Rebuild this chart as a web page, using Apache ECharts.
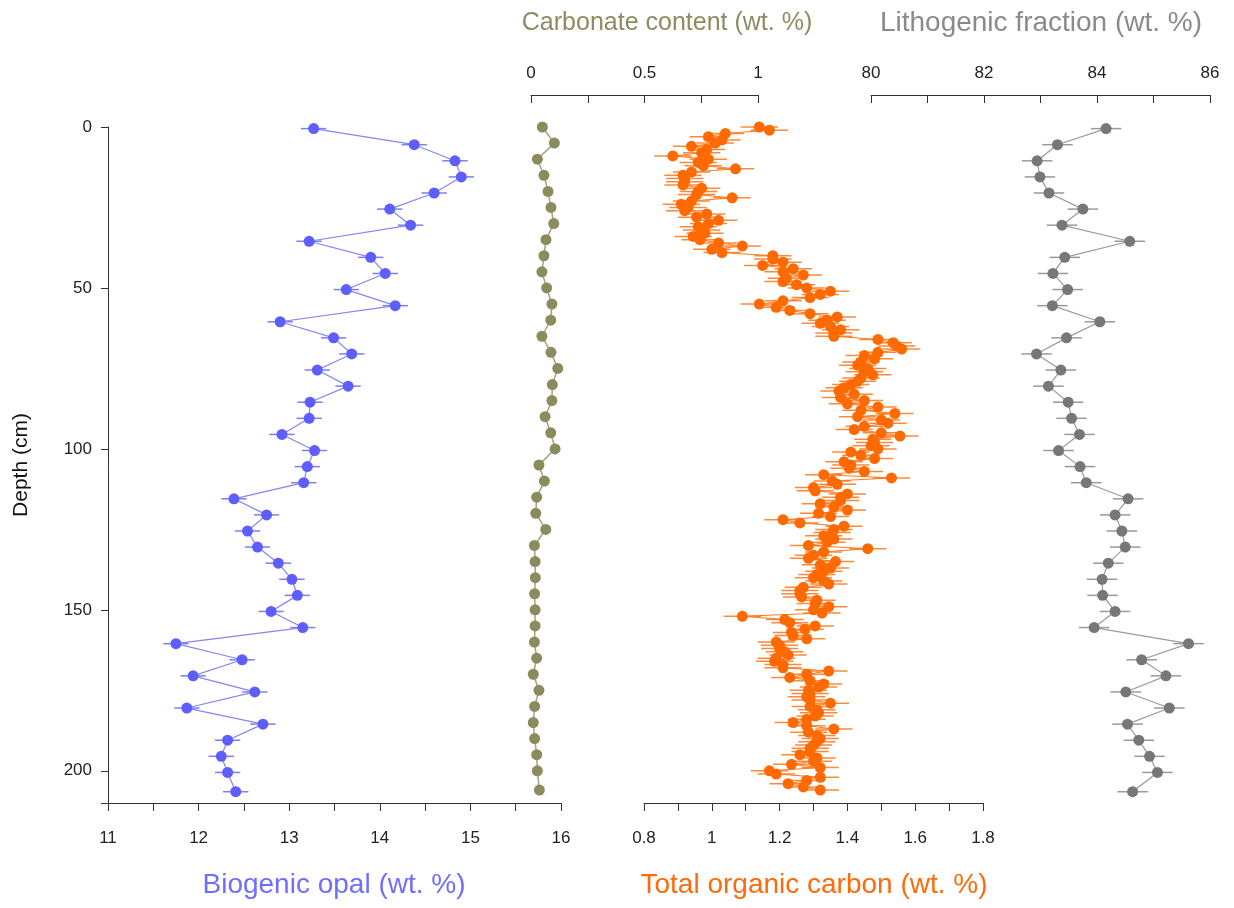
<!DOCTYPE html>
<html><head><meta charset="utf-8">
<script src="https://cdn.jsdelivr.net/npm/echarts@6/dist/echarts.min.js"></script>
<style>html,body{margin:0;padding:0;background:#fff}#c{width:1234px;height:908px}</style>
</head><body><div id="c"></div>
<script>
// ---- data ----
const sampleDepth = [0.5,5.5,10.5,15.5,20.5,25.5,30.5,35.5,40.5,45.5,50.5,55.5,60.5,65.5,70.5,75.5,80.5,85.5,90.5,95.5,100.5,105.5,110.5,115.5,120.5,125.5,130.5,135.5,140.5,145.5,150.5,155.5,160.5,165.5,170.5,175.5,180.5,185.5,190.5,195.5,200.5,206.5];
const carbDepth = [0,5,10,15,20,25,30,35,40,45,50,55,60,65,70,75,80,85,90,95,100,105,110,115,120,125,130,135,140,145,150,155,160,165,170,175,180,185,190,195,200,206];
const opal = [13.27,14.38,14.83,14.90,14.60,14.11,14.34,13.22,13.90,14.06,13.63,14.17,12.90,13.49,13.69,13.31,13.65,13.23,13.22,12.92,13.28,13.20,13.16,12.39,12.75,12.54,12.65,12.88,13.03,13.09,12.80,13.15,11.75,12.48,11.94,12.62,11.87,12.71,12.32,12.25,12.32,12.41];
const carbonate = [0.050,0.103,0.028,0.057,0.075,0.088,0.100,0.066,0.057,0.048,0.069,0.092,0.087,0.048,0.088,0.118,0.094,0.092,0.062,0.087,0.106,0.035,0.059,0.025,0.021,0.065,0.015,0.018,0.019,0.016,0.018,0.018,0.015,0.025,0.010,0.035,0.016,0.010,0.016,0.025,0.028,0.037];
const lithogenic = [84.16,83.30,82.94,82.99,83.15,83.75,83.38,84.58,83.43,83.22,83.48,83.21,84.05,83.46,82.93,83.36,83.14,83.49,83.55,83.69,83.32,83.70,83.81,84.55,84.32,84.44,84.50,84.20,84.09,84.10,84.32,83.95,85.62,84.79,85.22,84.51,85.28,84.54,84.74,84.93,85.07,84.63];
const tocDepth = [0,1,2,3,4,5,6,7,8,9,10,11,12,13,14,15,16,17,18,19,20,21,22,23,24,25,26,27,28,29,30,31,32,33,34,35,36,37,38,39,40,41,42,43,44,45,46,47,48,49,50,51,52,53,54,55,56,57,58,59,60,61,62,63,64,65,66,67,68,69,70,71,72,73,74,75,76,77,78,79,80,81,82,83,84,85,86,87,88,89,90,91,92,93,94,95,96,97,98,99,100,101,102,103,104,105,106,107,108,109,110,111,112,113,114,115,116,117,118,119,120,121,122,123,124,125,126,127,128,129,130,131,132,133,134,135,136,137,138,139,140,141,142,143,144,145,146,147,148,149,150,151,152,153,154,155,156,157,158,159,160,161,162,163,164,165,166,167,168,169,170,171,172,173,174,175,176,177,178,179,180,181,182,183,184,185,186,187,188,189,190,191,192,193,194,195,196,197,198,199,200,201,202,203,204,205,206];
const toc = [1.14,1.17,1.04,0.99,1.03,1.01,0.94,0.985,0.97,0.885,0.99,0.96,0.975,1.07,0.94,0.915,0.92,0.92,0.915,0.97,
0.96,0.955,1.06,0.94,0.91,0.93,0.92,0.985,0.955,1.02,0.99,0.96,0.97,0.98,0.945,0.965,1.02,1.09,1.00,1.03,
1.18,1.18,1.21,1.15,1.24,1.21,1.27,1.22,1.21,1.25,1.28,1.35,1.32,1.29,1.21,1.14,1.19,1.23,1.29,1.37,
1.34,1.32,1.35,1.38,1.36,1.36,1.49,1.535,1.545,1.56,1.49,1.45,1.48,1.44,1.43,1.46,1.45,1.475,1.44,1.43,
1.41,1.39,1.375,1.42,1.38,1.45,1.40,1.49,1.44,1.54,1.43,1.50,1.52,1.45,1.42,1.50,1.555,1.475,1.48,1.47,
1.49,1.41,1.44,1.48,1.39,1.41,1.405,1.45,1.33,1.53,1.355,1.37,1.30,1.305,1.40,1.38,1.38,1.32,1.36,1.40,
1.315,1.35,1.21,1.26,1.39,1.36,1.355,1.33,1.36,1.34,1.285,1.46,1.33,1.30,1.285,1.365,1.32,1.35,1.33,1.31,
1.30,1.33,1.345,1.27,1.26,1.26,1.265,1.31,1.305,1.345,1.30,1.325,1.09,1.215,1.23,1.305,1.275,1.235,1.24,1.28,
1.19,1.20,1.20,1.215,1.225,1.19,1.185,1.21,1.21,1.345,1.28,1.23,1.29,1.33,1.315,1.285,1.29,1.28,1.29,1.35,
1.29,1.31,1.315,1.305,1.28,1.24,1.28,1.36,1.285,1.31,1.32,1.31,1.30,1.29,1.29,1.26,1.31,1.30,1.235,1.32,
1.17,1.19,1.32,1.28,1.225,1.27,1.32];
const opalErr = 0.14, tocErr = 0.055, lithErr = 0.27;
const depthTicks = [0, 50, 100, 150, 200];

// ---- chart ----
const FONT = '"Liberation Sans", Arial, sans-serif';
const chart = echarts.init(document.getElementById('c'));
const TOP = 127, H = 676;
const axisCol = '#333';

function pairs(xs, ys){ return xs.map((v,i)=>[v, ys[i]]); }
function errs(xs, ys, e){ return xs.map((v,i)=>[v-e, v+e, ys[i]]); }
function errSeries(idx, data, color, w){
  return {type:'custom', xAxisIndex:idx, yAxisIndex:idx, z:1, silent:true,
    encode:{x:[0,1], y:2}, data:data,
    renderItem:function(params, api){
      const a = api.coord([api.value(0), api.value(2)]);
      const b = api.coord([api.value(1), api.value(2)]);
      return {type:'line', shape:{x1:a[0],y1:a[1],x2:b[0],y2:b[1]}, style:{stroke:color, lineWidth:w}};
    }};
}
function lineSeries(idx, data, dot, line, size, lw){
  return {type:'line', xAxisIndex:idx, yAxisIndex:idx, z:3, data:data, symbol:'circle', symbolSize:size,
    showSymbol:true, showAllSymbol:true, animation:false, clip:false,
    itemStyle:{color:dot, borderWidth:0}, lineStyle:{color:line, width:lw}};
}
function yAxis(idx, show){
  return {type:'value', gridIndex:idx, min:0, max:210, inverse:true, interval:50, show:show,
    axisLine:{show:true, lineStyle:{color:axisCol, width:1}},
    axisTick:{show:true, length:7, lineStyle:{color:axisCol}},
    axisLabel:{fontSize:17, color:'#222', margin:16, fontFamily:FONT,
      formatter:v=> depthTicks.indexOf(v)>=0 ? String(v) : ''},
    splitLine:{show:false},
    name:'Depth (cm)', nameLocation:'middle', nameGap:76, nameRotate:90,
    nameTextStyle:{fontSize:21, color:'#111', fontFamily:FONT}};
}
function xAxis(idx, pos, offset, min, max, interval, inside, fmt){
  return {type:'value', gridIndex:idx, position:pos, offset:offset, min:min, max:max, interval:interval,
    axisLine:{show:true, onZero:false, lineStyle:{color:axisCol, width:1}},
    axisTick:{show:true, inside:inside, length:8, lineStyle:{color:axisCol}},
    axisLabel:{fontSize:17, color:'#222', margin: pos==='top' ? 13 : 27, fontFamily:FONT, formatter:fmt, showMinLabel:true, showMaxLabel:true},
    splitLine:{show:false}};
}
const r = v => Math.round(v*1000)/1000;

chart.setOption({
  animation:false,
  backgroundColor:'#fff',
  grid:[
    {left:108, top:TOP, width:453, height:H},
    {left:531, top:TOP, width:227, height:H},
    {left:644, top:TOP, width:339, height:H},
    {left:871, top:TOP, width:339, height:H}
  ],
  xAxis:[
    xAxis(0,'bottom',0,11,16,0.5,false, v=> Math.abs(v-Math.round(v))<1e-6 ? String(Math.round(v)) : ''),
    xAxis(1,'top',32,0,1,0.25,true, v=> Math.abs(v*2-Math.round(v*2))<1e-6 ? String(r(v)) : ''),
    xAxis(2,'bottom',0,0.8,1.8,0.1,false, v=> (Math.round(v*10)%2===0) ? String(r(v)) : ''),
    xAxis(3,'top',32,80,86,1,true, v=> (Math.round(v)%2===0) ? String(Math.round(v)) : '')
  ],
  yAxis:[yAxis(0,true), yAxis(1,false), yAxis(2,false), yAxis(3,false)],
  series:[
    errSeries(0, errs(opal, sampleDepth, opalErr), '#7e7ef0', 1.5),
    lineSeries(0, pairs(opal, sampleDepth), '#5e5eff', '#8585ee', 11, 1.2),
    lineSeries(1, pairs(carbonate, carbDepth), '#8b8b5e', '#a3a382', 11, 1.5),
    errSeries(2, errs(toc, tocDepth, tocErr), '#ff8a3a', 1.5),
    lineSeries(2, pairs(toc, tocDepth), '#ff6a00', '#ff7a1a', 11, 1),
    errSeries(3, errs(lithogenic, sampleDepth, lithErr), '#9a9a9a', 1.5),
    lineSeries(3, pairs(lithogenic, sampleDepth), '#777777', '#9a9a9a', 11, 1.2)
  ],
  graphic:[
    {type:'text', x:667, y:23, style:{text:'Carbonate content (wt. %)', fill:'#8c8c62', font:'25px '+FONT, textAlign:'center', textVerticalAlign:'middle'}},
    {type:'text', x:1041, y:23, style:{text:'Lithogenic fraction (wt. %)', fill:'#8a8a8a', font:'28px '+FONT, textAlign:'center', textVerticalAlign:'middle'}},
    {type:'text', x:334, y:885, style:{text:'Biogenic opal (wt. %)', fill:'#6e6eff', font:'28px '+FONT, textAlign:'center', textVerticalAlign:'middle'}},
    {type:'text', x:814, y:885, style:{text:'Total organic carbon (wt. %)', fill:'#ff6a0a', font:'28px '+FONT, textAlign:'center', textVerticalAlign:'middle'}}
  ]
});
</script></body></html>
